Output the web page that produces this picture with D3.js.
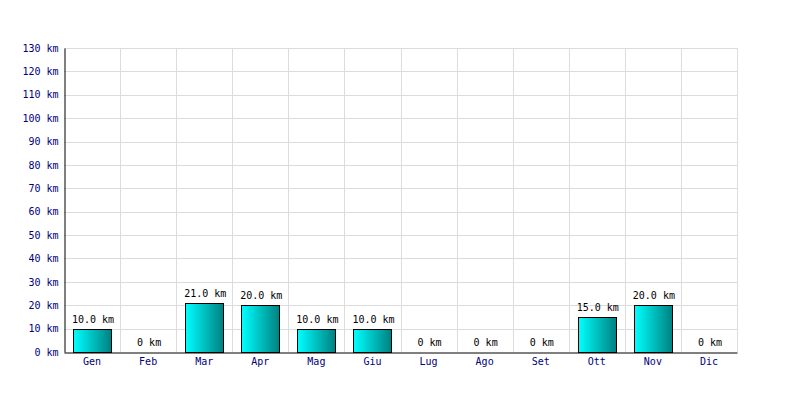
<!DOCTYPE html>
<html><head><meta charset="utf-8">
<script src="https://cdn.jsdelivr.net/npm/d3@7"></script>
<style>body{margin:0;background:#fff}svg{display:block}</style>
</head><body>
<svg id="c" width="800" height="400"></svg>
<script>
const months = ["Gen","Feb","Mar","Apr","Mag","Giu","Lug","Ago","Set","Ott","Nov","Dic"];
const km = [10,0,21,20,10,10,0,0,0,15,20,0];
const yTicks = [0,10,20,30,40,50,60,70,80,90,100,110,120,130];

const svg = d3.select("#c");
const m = {l:64, r:737, t:48, b:352};
const x = d3.scaleBand().domain(months).range([m.l, m.r]).paddingInner(0).paddingOuter(0);
const y = d3.scaleLinear().domain([0,130]).range([m.b, m.t]);
const font = "'DejaVu Sans Mono', monospace";
const fs = 10;

const defs = svg.append("defs");
const g = defs.append("linearGradient").attr("id","gr").attr("x1","0").attr("x2","1").attr("y1","0").attr("y2","0");
g.append("stop").attr("offset","0").attr("stop-color","#00ffff");
g.append("stop").attr("offset","1").attr("stop-color","#008080");

// grid
svg.append("g").selectAll("line").data(yTicks.slice(1)).join("line")
  .attr("x1",m.l).attr("x2",m.r).attr("y1",d=>Math.round(y(d))+0.5).attr("y2",d=>Math.round(y(d))+0.5)
  .attr("stroke","#dcdcdc");
svg.append("g").selectAll("line").data(months.slice(1).concat(["__end"])).join("line")
  .attr("x1",d=>Math.round(d==="__end"?m.r:x(d))+0.5).attr("x2",d=>Math.round(d==="__end"?m.r:x(d))+0.5)
  .attr("y1",m.t).attr("y2",m.b).attr("stroke","#dcdcdc");

// bars
const bw = 38;
svg.append("g").selectAll("rect").data(months.map((mo,i)=>({mo,v:km[i]})).filter(d=>d.v>0)).join("rect")
  .attr("x",d=>Math.round(x(d.mo)+x.bandwidth()/2-bw/2)+0.5)
  .attr("y",d=>Math.round(y(d.v))+0.5)
  .attr("width",bw)
  .attr("height",d=>Math.round(y(0))-Math.round(y(d.v)))
  .attr("fill","url(#gr)").attr("stroke","#000").attr("stroke-width",1);

// value labels
svg.append("g").selectAll("text").data(months.map((mo,i)=>({mo,v:km[i]}))).join("text")
  .attr("x",d=>x(d.mo)+x.bandwidth()/2+1)
  .attr("y",d=>y(d.v)-6)
  .attr("text-anchor","middle")
  .attr("font-family",font).attr("font-size",fs).attr("fill","#000")
  .text(d=>d.v>0 ? d.v.toFixed(1)+" km" : "0 km");

// axes
const ya = d3.axisLeft(y).tickValues(yTicks).tickSize(0).tickPadding(6).tickFormat(d=>d+" km");
const yg = svg.append("g").attr("transform",`translate(${m.l+0.5},0)`).call(ya);
yg.select(".domain").attr("stroke","#000");
yg.selectAll("text").attr("font-family",font).attr("font-size",fs).attr("fill","#000080");

const xa = d3.axisBottom(x).tickSize(0).tickPadding(5);
const xg = svg.append("g").attr("transform",`translate(0,${m.b+0.5})`).call(xa);
xg.select(".domain").attr("stroke","#000");
xg.selectAll("text").attr("font-family",font).attr("font-size",fs).attr("fill","#000080");
</script>
</body></html>
